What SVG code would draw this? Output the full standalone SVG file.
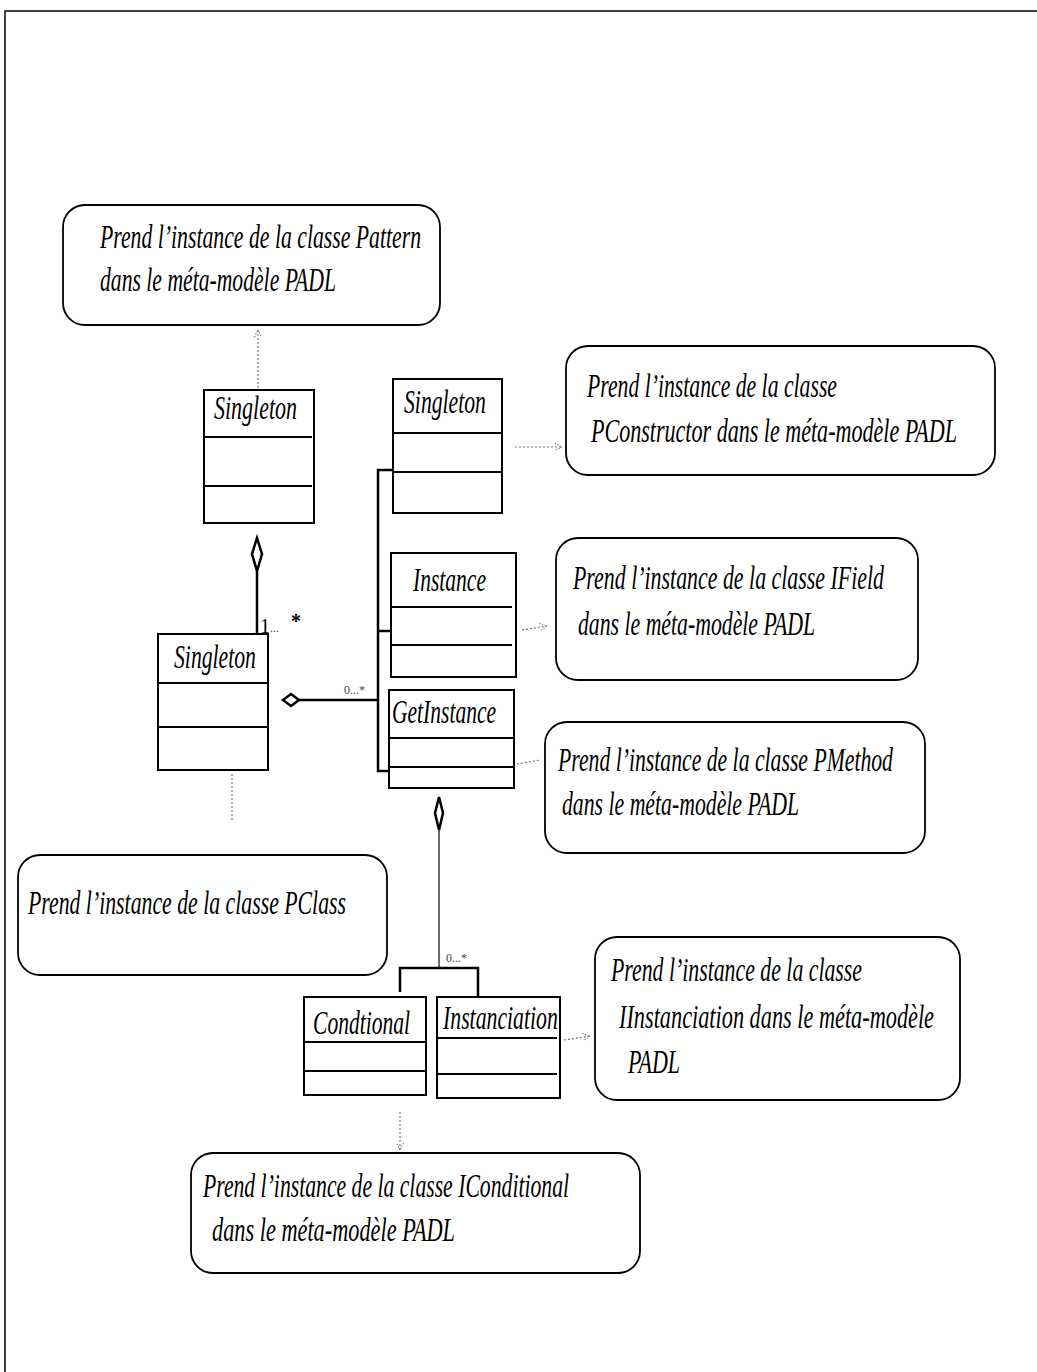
<svg xmlns="http://www.w3.org/2000/svg" width="1037" height="1372" viewBox="0 0 1037 1372">
  <defs>
    <style>
      .frame { stroke: #000; stroke-width: 1.5; fill: none; }
      .note { fill: #fff; stroke: #000; stroke-width: 1.8; }
      .cls { fill: #fff; stroke: #000; stroke-width: 2; }
      .sep { stroke: #000; stroke-width: 2; }
      .txt { font-family: "Liberation Serif", "DejaVu Serif", serif; font-style: italic; font-size: 34px; fill: #000; }
      .name { font-family: "Liberation Serif", "DejaVu Serif", serif; font-style: italic; font-size: 33px; fill: #000; }
      .mult { font-family: "Liberation Serif", "DejaVu Serif", serif; font-size: 20px; fill: #000; }
      .mults { font-family: "Liberation Serif", "DejaVu Serif", serif; font-size: 12px; fill: #444; }
      .wire { stroke: #000; stroke-width: 2.5; fill: none; }
      .thin { stroke: #444; stroke-width: 1.6; fill: none; }
      .dep { stroke: #777; stroke-width: 1.2; stroke-dasharray: 2 2; fill: none; }
      .diamond { fill: #fff; stroke: #000; stroke-width: 2.5; }
    </style>
    <marker id="open" viewBox="0 0 10 10" refX="9" refY="5" markerWidth="9" markerHeight="9" orient="auto" markerUnits="userSpaceOnUse">
      <path d="M1,1 L9,5 L1,9" fill="none" stroke="#777" stroke-width="1.2" stroke-dasharray="1.5 1.5"/>
    </marker>
  </defs>

  <!-- page frame: top and left edges only -->
  <path class="frame" d="M5,1372 V11 H1037"/>

  <!-- comment notes (condensed italic: horizontal scale 0.64) -->
  <g id="note-pattern">
    <rect class="note" x="63" y="205" width="377" height="120" rx="22"/>
    <text class="txt" transform="translate(100 248) scale(0.64 1)" textLength="501.6" lengthAdjust="spacingAndGlyphs">Prend l’instance de la classe Pattern</text>
    <text class="txt" transform="translate(100 291) scale(0.64 1)" textLength="368.8" lengthAdjust="spacingAndGlyphs">dans le méta-modèle PADL</text>
  </g>
  <g id="note-pconstructor">
    <rect class="note" x="566" y="346" width="429" height="129" rx="22"/>
    <text class="txt" transform="translate(587 397) scale(0.64 1)" textLength="390.6" lengthAdjust="spacingAndGlyphs">Prend l’instance de la classe</text>
    <text class="txt" transform="translate(591 442) scale(0.64 1)" textLength="571.9" lengthAdjust="spacingAndGlyphs">PConstructor dans le méta-modèle PADL</text>
  </g>
  <g id="note-ifield">
    <rect class="note" x="556" y="538" width="362" height="142" rx="22"/>
    <text class="txt" transform="translate(573 589) scale(0.64 1)" textLength="485.9" lengthAdjust="spacingAndGlyphs">Prend l’instance de la classe IField</text>
    <text class="txt" transform="translate(578 635) scale(0.64 1)" textLength="370.3" lengthAdjust="spacingAndGlyphs">dans le méta-modèle PADL</text>
  </g>
  <g id="note-pmethod">
    <rect class="note" x="545" y="722" width="380" height="131" rx="22"/>
    <text class="txt" transform="translate(558 771) scale(0.64 1)" textLength="523.4" lengthAdjust="spacingAndGlyphs">Prend l’instance de la classe PMethod</text>
    <text class="txt" transform="translate(562 815) scale(0.64 1)" textLength="370.3" lengthAdjust="spacingAndGlyphs">dans le méta-modèle PADL</text>
  </g>
  <g id="note-pclass">
    <rect class="note" x="18" y="855" width="369" height="120" rx="22"/>
    <text class="txt" transform="translate(28 914) scale(0.64 1)" textLength="496.9" lengthAdjust="spacingAndGlyphs">Prend l’instance de la classe PClass</text>
  </g>
  <g id="note-iinstanciation">
    <rect class="note" x="595" y="937" width="365" height="163" rx="22"/>
    <text class="txt" transform="translate(611 981) scale(0.64 1)" textLength="392.2" lengthAdjust="spacingAndGlyphs">Prend l’instance de la classe</text>
    <text class="txt" transform="translate(619 1028) scale(0.64 1)" textLength="492.2" lengthAdjust="spacingAndGlyphs">IInstanciation dans le méta-modèle</text>
    <text class="txt" transform="translate(628 1073) scale(0.64 1)" textLength="81.3" lengthAdjust="spacingAndGlyphs">PADL</text>
  </g>
  <g id="note-iconditional">
    <rect class="note" x="191" y="1153" width="449" height="120" rx="22"/>
    <text class="txt" transform="translate(203 1197) scale(0.64 1)" textLength="571.9" lengthAdjust="spacingAndGlyphs">Prend l’instance de la classe IConditional</text>
    <text class="txt" transform="translate(212 1241) scale(0.64 1)" textLength="379.7" lengthAdjust="spacingAndGlyphs">dans le méta-modèle PADL</text>
  </g>

  <!-- classes (names: horizontal scale 0.66) -->
  <g id="class-singleton-pattern">
    <rect class="cls" x="204" y="390" width="110" height="133"/>
    <line class="sep" x1="204" y1="437" x2="312" y2="437"/>
    <line class="sep" x1="204" y1="486" x2="312" y2="486"/>
    <text class="name" transform="translate(214 419) scale(0.66 1)" textLength="125.8" lengthAdjust="spacingAndGlyphs">Singleton</text>
  </g>
  <g id="class-singleton-constructor">
    <rect class="cls" x="393" y="379" width="109" height="134"/>
    <line class="sep" x1="393" y1="433" x2="502" y2="433"/>
    <line class="sep" x1="393" y1="472" x2="502" y2="472"/>
    <text class="name" transform="translate(404 413) scale(0.66 1)" textLength="124.2" lengthAdjust="spacingAndGlyphs">Singleton</text>
  </g>
  <g id="class-instance">
    <rect class="cls" x="391" y="553" width="125" height="124"/>
    <line class="sep" x1="391" y1="607" x2="512" y2="607"/>
    <line class="sep" x1="391" y1="645" x2="512" y2="645"/>
    <text class="name" transform="translate(413 591) scale(0.66 1)" textLength="110.6" lengthAdjust="spacingAndGlyphs">Instance</text>
  </g>
  <g id="class-getinstance">
    <rect class="cls" x="389" y="690" width="125" height="98"/>
    <line class="sep" x1="389" y1="738" x2="514" y2="738"/>
    <line class="sep" x1="389" y1="767" x2="514" y2="767"/>
    <text class="name" transform="translate(392 723) scale(0.66 1)" textLength="157.6" lengthAdjust="spacingAndGlyphs">GetInstance</text>
  </g>
  <g id="class-singleton-class">
    <rect class="cls" x="158" y="634" width="110" height="136"/>
    <line class="sep" x1="158" y1="683" x2="268" y2="683"/>
    <line class="sep" x1="158" y1="727" x2="268" y2="727"/>
    <text class="name" transform="translate(174 668) scale(0.66 1)" textLength="124.2" lengthAdjust="spacingAndGlyphs">Singleton</text>
  </g>
  <g id="class-condtional">
    <rect class="cls" x="304" y="997" width="122" height="98"/>
    <line class="sep" x1="304" y1="1042" x2="426" y2="1042"/>
    <line class="sep" x1="304" y1="1071" x2="426" y2="1071"/>
    <text class="name" transform="translate(313 1034) scale(0.66 1)" textLength="147" lengthAdjust="spacingAndGlyphs">Condtional</text>
  </g>
  <g id="class-instanciation">
    <rect class="cls" x="437" y="997" width="123" height="101"/>
    <line class="sep" x1="437" y1="1038" x2="557" y2="1038"/>
    <line class="sep" x1="437" y1="1074" x2="557" y2="1074"/>
    <text class="name" transform="translate(443 1029) scale(0.66 1)" textLength="174" lengthAdjust="spacingAndGlyphs">Instanciation</text>
  </g>

  <!-- connectors -->
  <g id="connectors">
    <!-- aggregation: pattern Singleton to class Singleton -->
    <line class="wire" x1="257" y1="571" x2="257" y2="634"/>
    <path class="diamond" d="M257,538 L262,554 L257,571 L252,554 Z"/>
    <text class="mult" x="260" y="633">1</text>
    <text class="mults" x="270" y="632">...</text>
    <text class="mult" x="291" y="628" font-weight="bold">*</text>

    <!-- aggregation: class Singleton to its members -->
    <line class="wire" x1="298" y1="700" x2="378" y2="700"/>
    <path class="diamond" d="M283,700 L291,694 L299,700 L291,706 Z"/>
    <text class="mults" x="344" y="694">0...*</text>
    <path class="wire" d="M393,470 H378 V771 H389"/>
    <line class="wire" x1="378" y1="631" x2="391" y2="631"/>

    <!-- aggregation: GetInstance to its statements -->
    <path class="diamond" d="M439,797 L443,813 L439,830 L435,813 Z"/>
    <line class="thin" x1="439" y1="830" x2="439" y2="968"/>
    <text class="mults" x="446" y="962">0...*</text>
    <path class="wire" d="M400,992 V968 H478 V997"/>

    <!-- dependencies to the notes -->
    <line class="dep" x1="258" y1="388" x2="258" y2="330" marker-end="url(#open)"/>
    <line class="dep" x1="515" y1="447" x2="562" y2="447" marker-end="url(#open)"/>
    <line class="dep" x1="522" y1="630" x2="547" y2="626" marker-end="url(#open)"/>
    <line class="dep" x1="517" y1="764" x2="540" y2="760"/>
    <line class="dep" x1="232" y1="774" x2="232" y2="822"/>
    <line class="dep" x1="564" y1="1040" x2="590" y2="1036" marker-end="url(#open)"/>
    <line class="dep" x1="400" y1="1112" x2="400" y2="1150" marker-end="url(#open)"/>
  </g>
</svg>
